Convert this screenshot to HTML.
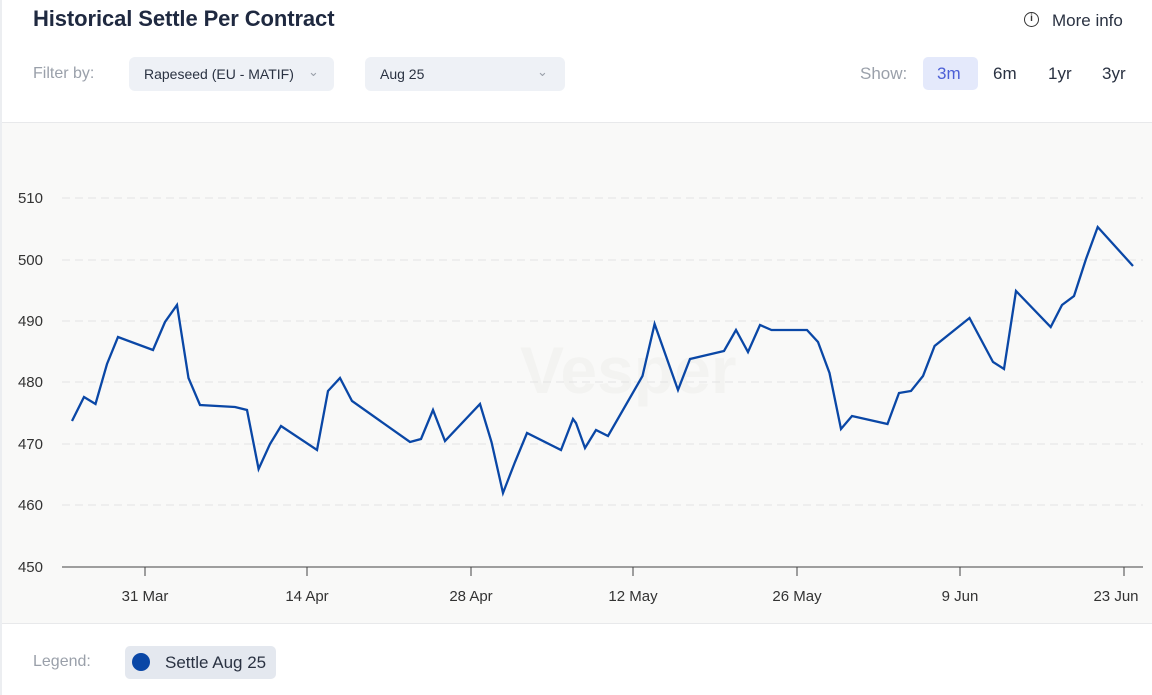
<!DOCTYPE html>
<html><head><meta charset="utf-8"><style>
body{margin:0;width:1152px;height:695px;background:#fff;font-family:"Liberation Sans",sans-serif;position:relative;overflow:hidden}
.a{position:absolute;white-space:nowrap}
</style></head><body>
<div class="a" style="left:0;top:0;width:2px;height:695px;background:#eceef1"></div>
<div class="a" style="left:33px;top:6px;font-size:22px;font-weight:bold;color:#1f2940;letter-spacing:-0.1px">Historical Settle Per Contract</div>
<div class="a" style="left:1024px;top:12px;width:15px;height:15px;border:1.5px solid #333;border-radius:50%;box-sizing:border-box;font-size:10px;font-weight:bold;text-align:center;line-height:12px;color:#333">i</div>
<div class="a" style="left:1052px;top:11px;font-size:17px;color:#2a3242">More info</div>
<div class="a" style="left:33px;top:65px;font-size:16px;color:#9aa0aa">Filter by:</div>
<div class="a" style="left:129px;top:57px;width:205px;height:34px;background:#eef1f6;border-radius:6px"></div>
<div class="a" style="left:144px;top:66px;font-size:14px;color:#2a3242">Rapeseed (EU - MATIF)</div>
<div class="a" style="left:308px;top:64px;font-size:13px;color:#9aa0aa">&#8964;</div>
<div class="a" style="left:365px;top:57px;width:200px;height:34px;background:#eef1f6;border-radius:6px"></div>
<div class="a" style="left:380px;top:66px;font-size:14px;color:#2a3242">Aug 25</div>
<div class="a" style="left:537px;top:64px;font-size:13px;color:#9aa0aa">&#8964;</div>
<div class="a" style="left:860px;top:64px;font-size:17px;color:#9aa0aa">Show:</div>
<div class="a" style="left:923px;top:57px;width:55px;height:33px;background:#e4e9fb;border-radius:5px"></div>
<div class="a" style="left:937px;top:64px;font-size:17px;color:#4c5fd6">3m</div>
<div class="a" style="left:993px;top:64px;font-size:17px;color:#2a3242">6m</div>
<div class="a" style="left:1048px;top:64px;font-size:17px;color:#2a3242">1yr</div>
<div class="a" style="left:1102px;top:64px;font-size:17px;color:#2a3242">3yr</div>
<div class="a" style="left:2px;top:122px;width:1150px;height:500px;background:#f9f9f8;border-top:1px solid #e8e9eb;border-bottom:1px solid #e8e9eb"></div>
<svg class="a" style="left:0;top:0" width="1152" height="695">
<text x="520" y="393" font-family="Liberation Sans" font-size="66" font-weight="bold" fill="#f3f3f1">Vesper</text>
<g stroke="#e3e3e3" stroke-dasharray="8,5" stroke-width="1">
<line x1="62" x2="1143" y1="198" y2="198"/><line x1="62" x2="1143" y1="260" y2="260"/><line x1="62" x2="1143" y1="321" y2="321"/><line x1="62" x2="1143" y1="382" y2="382"/><line x1="62" x2="1143" y1="444" y2="444"/><line x1="62" x2="1143" y1="505" y2="505"/></g>
<line x1="62" x2="1143" y1="567" y2="567" stroke="#444" stroke-width="1"/>
<g stroke="#444"><line x1="145" x2="145" y1="567" y2="576"/><line x1="307" x2="307" y1="567" y2="576"/><line x1="471" x2="471" y1="567" y2="576"/><line x1="633" x2="633" y1="567" y2="576"/><line x1="797" x2="797" y1="567" y2="576"/><line x1="960" x2="960" y1="567" y2="576"/><line x1="1124" x2="1124" y1="567" y2="576"/></g>
<g font-family="Liberation Sans" font-size="15" fill="#333" text-anchor="end">
<text x="43" y="203">510</text><text x="43" y="265">500</text><text x="43" y="326">490</text><text x="43" y="387">480</text><text x="43" y="449">470</text><text x="43" y="510">460</text><text x="43" y="572">450</text></g>
<g font-family="Liberation Sans" font-size="15" fill="#333" text-anchor="middle">
<text x="145" y="601">31 Mar</text><text x="307" y="601">14 Apr</text><text x="471" y="601">28 Apr</text><text x="633" y="601">12 May</text><text x="797" y="601">26 May</text><text x="960" y="601">9 Jun</text><text x="1116" y="601">23 Jun</text></g>
<polyline fill="none" stroke="#0a47a6" stroke-width="2.3" stroke-linejoin="miter" points="72,421 84,397 95.5,404 107,364 118,337 153,350 165,322 177,305 188.5,378 200,405 235,407 247,410 258.6,469 270,444 281,426 317,450 328,391 340,378 352,401 410,442 421,439 433,410 445,441 480,404 491.5,442 503,493 515,462 527,433 561,450 573,419 576,423 585,448 596,430 608,436 642.5,376 654.6,324 678,390 690,359 724,351 736,330 748,352 760,325 771.5,330 807,330 818,342 829.5,373 841,429 852,416 887.5,424 899,393 911,391 923,376 934.6,346 969.5,318 993,362 1004,369 1016,291 1050.7,327 1062,305 1074,296 1086,259 1097.7,227 1133,266"/>
</svg>
<div class="a" style="left:33px;top:653px;font-size:16px;color:#9aa0aa">Legend:</div>
<div class="a" style="left:125px;top:646px;width:151px;height:33px;background:#e4e8ef;border-radius:5px"></div>
<div class="a" style="left:132px;top:653px;width:18px;height:18px;border-radius:50%;background:#0a47a6"></div>
<div class="a" style="left:165px;top:653px;font-size:17px;color:#2a3242">Settle Aug 25</div>
</body></html>
